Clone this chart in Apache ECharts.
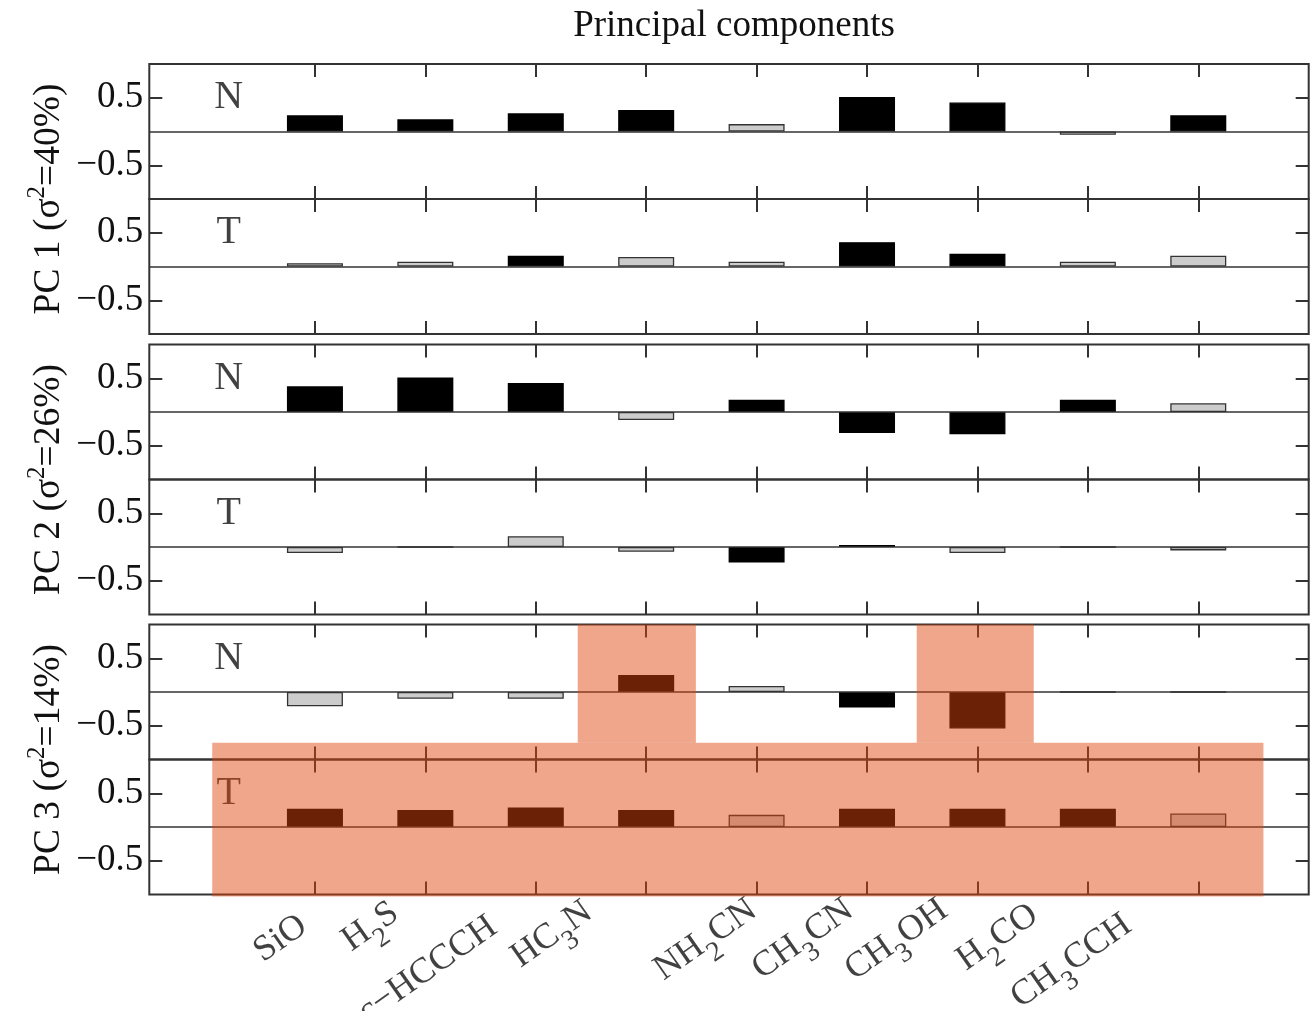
<!DOCTYPE html>
<html>
<head>
<meta charset="utf-8">
<script src="https://cdn.jsdelivr.net/npm/echarts@6/dist/echarts.min.js"></script>
<style>
  html, body { margin: 0; padding: 0; background: #fff; }
  #chart { width: 1314px; height: 1011px; }
</style>
</head>
<body>
<div id="chart"></div>
<script>
// Molecules along the horizontal axis (rich-text versions carry the subscripts)
const molecules = ['SiO', 'H2S', 'c−HCCCH', 'HC3N', 'NH2CN', 'CH3CN', 'CH3OH', 'H2CO', 'CH3CCH'];
const moleculeLabels = [
  '{m|SiO}', '{m|H}{sub|2}{m|S}', '{m|c−HCCCH}', '{m|HC}{sub|3}{m|N}', '{m|NH}{sub|2}{m|CN}',
  '{m|CH}{sub|3}{m|CN}', '{m|CH}{sub|3}{m|OH}', '{m|H}{sub|2}{m|CO}', '{m|CH}{sub|3}{m|CCH}'
];
const positions = [1, 2, 3, 4, 5, 6, 7, 8, 9];

// Principal components and their explained variance (%)
const pcNames = ['PC 1', 'PC 2', 'PC 3'];
const pcVariance = [40, 26, 14];
const yTickValues = [-0.5, 0.5];

// Loadings on column density (N) and temperature (T); sig = 1 marks a significant loading
const pc1N = [0.24, 0.18, 0.27, 0.32, 0.11, 0.51, 0.43, -0.05, 0.24];
const pc1NSig = [1, 1, 1, 1, 0, 1, 1, 0, 1];
const pc1T = [0.05, 0.07, 0.16, 0.14, 0.07, 0.36, 0.19, 0.07, 0.16];
const pc1TSig = [0, 0, 1, 0, 0, 1, 1, 0, 0];
const pc2N = [0.38, 0.51, 0.43, -0.12, 0.18, -0.31, -0.33, 0.18, 0.13];
const pc2NSig = [1, 1, 1, 0, 1, 1, 1, 1, 0];
const pc2T = [-0.09, 0, 0.16, -0.07, -0.23, 0.03, -0.09, 0, -0.05];
const pc2TSig = [0, 0, 0, 0, 1, 1, 0, 0, 0];
const pc3N = [-0.21, -0.10, -0.10, 0.25, 0.09, -0.23, -0.54, 0, 0];
const pc3NSig = [0, 0, 0, 1, 0, 1, 1, 0, 0];
const pc3T = [0.27, 0.25, 0.29, 0.25, 0.18, 0.27, 0.27, 0.27, 0.20];
const pc3TSig = [1, 1, 1, 1, 0, 1, 1, 1, 0];

// Highlighted regions of PC 3: [xFrom, xTo, yFrom, yTo] in the PC 3 overlay frame
// (N panel zero at 0, T panel zero at -2)
const pc3Highlights = [
  [3.38, 4.45, -0.75, 1],
  [6.45, 7.51, -0.75, 1],
  [0.07, 9.59, -3.03, -0.75]
];

const panels = [
  { vals: pc1N, sig: pc1NSig, tag: 'N' },
  { vals: pc1T, sig: pc1TSig, tag: 'T' },
  { vals: pc2N, sig: pc2NSig, tag: 'N' },
  { vals: pc2T, sig: pc2TSig, tag: 'T' },
  { vals: pc3N, sig: pc3NSig, tag: 'N' },
  { vals: pc3T, sig: pc3TSig, tag: 'T' }
];

const FONT = "'Liberation Serif', 'DejaVu Serif', serif";
const INK = '#111';
const FRAME = '#333';
const plotLeft = 149.3, plotRight = 5.3;
const pairTops = [64, 344.5, 624.5];
const panelH = 135;
// screen-space pixel nudges of the slanted molecule names, measured from the tick foot
const nameNudge = [[-8, 33], [-27, 20], [-39, 34], [-54, 19], [0, 17], [-14, 17], [-30, 17], [-50, 22], [-67, 32]];
const NAME_ROTATE = 35;
// label offsets are applied in the rotated text frame, so turn the screen nudge into it
function toTextFrame(d) {
  const t = NAME_ROTATE * Math.PI / 180, c = Math.cos(t), s = Math.sin(t);
  return [d[0] * c - d[1] * s, d[0] * s + d[1] * c];
}

const grids = [], xAxes = [], yAxes = [], series = [];

function xTick() {
  return { show: true, inside: true, length: 13, customValues: positions, lineStyle: { color: FRAME, width: 2 } };
}
function yTick() {
  return { show: true, inside: true, length: 13, customValues: yTickValues, lineStyle: { color: FRAME, width: 2 } };
}

panels.forEach((p, i) => {
  const pair = Math.floor(i / 2), row = i % 2;
  const top = pairTops[pair] + row * panelH;
  grids.push({
    left: plotLeft, right: plotRight, top: top, height: panelH,
    show: true, borderColor: FRAME, borderWidth: 2, backgroundColor: 'transparent'
  });
  ['bottom', 'top'].forEach(pos => xAxes.push({
    type: 'value', gridIndex: i, min: -0.5, max: 10, position: pos,
    axisLine: { show: false, onZero: false }, splitLine: { show: false },
    axisTick: xTick(), axisLabel: { show: false }
  }));
  yAxes.push({
    type: 'value', gridIndex: i, min: -1, max: 1, position: 'left',
    axisLine: { show: false, onZero: false }, splitLine: { show: false }, axisTick: yTick(),
    axisLabel: {
      show: true, customValues: yTickValues, margin: 6,
      fontFamily: FONT, fontSize: 37, color: INK,
      formatter: v => (v < 0 ? '−' + Math.abs(v) : String(v))
    }
  });
  yAxes.push({
    type: 'value', gridIndex: i, min: -1, max: 1, position: 'right',
    axisLine: { show: false, onZero: false }, splitLine: { show: false }, axisTick: yTick(),
    axisLabel: { show: false }
  });
  series.push({
    type: 'bar', xAxisIndex: 2 * i, yAxisIndex: 2 * i, barWidth: 56, silent: true,
    itemStyle: { borderColor: FRAME, borderWidth: 1.3 },
    data: p.vals.map((v, k) => ({
      value: [positions[k], v],
      itemStyle: { color: p.sig[k] ? '#000' : '#cccccc', borderColor: p.sig[k] ? '#000' : FRAME }
    })),
    markLine: {
      silent: true, symbol: ['none', 'none'], label: { show: false },
      lineStyle: { color: FRAME, width: 1.5, type: 'solid' },
      data: [{ yAxis: 0 }]
    }
  });
  series.push({
    type: 'scatter', xAxisIndex: 2 * i, yAxisIndex: 2 * i, silent: true,
    symbolSize: 0, data: [[0.22, 0.5]],
    label: {
      show: true, position: 'inside', formatter: p.tag,
      fontFamily: FONT, fontSize: 40, color: INK
    }
  });
});

// Slanted molecule names under the bottom panel
const lastPanel = panels.length - 1;
series.push({
  type: 'scatter', xAxisIndex: 2 * lastPanel, yAxisIndex: 2 * lastPanel, silent: true,
  symbolSize: 0, clip: false,
  data: positions.map((x, k) => ({
    value: [x, -1],
    label: { offset: toTextFrame(nameNudge[k]), formatter: moleculeLabels[k] }
  })),
  label: {
    show: true, position: 'inside', align: 'right', verticalAlign: 'middle', rotate: NAME_ROTATE,
    rich: {
      m: { fontFamily: FONT, fontSize: 36, color: INK, verticalAlign: 'bottom', padding: [0, 0, 12, 0] },
      sub: { fontFamily: FONT, fontSize: 28, color: INK, verticalAlign: 'bottom' }
    }
  }
});

// One overlay frame per principal component: carries the side title and the highlights
pcNames.forEach((name, k) => {
  const gi = grids.length;
  grids.push({ left: plotLeft, right: plotRight, top: pairTops[k], height: 2 * panelH, show: false });
  xAxes.push({ type: 'value', gridIndex: gi, min: -0.5, max: 10, show: false });
  yAxes.push({
    type: 'value', gridIndex: gi, min: -3, max: 1,
    axisLine: { show: false, onZero: false }, axisTick: { show: false }, axisLabel: { show: false }, splitLine: { show: false },
    name: '{m|' + name + ' (σ}{sup|2}{m|=' + pcVariance[k] + '%)}',
    nameLocation: 'middle', nameRotate: 90, nameGap: 81,
    nameTextStyle: {
      rich: {
        m: { fontFamily: FONT, fontSize: 37.5, color: INK, verticalAlign: 'bottom' },
        sup: { fontFamily: FONT, fontSize: 25, color: INK, verticalAlign: 'bottom', padding: [0, 0, 18, 0] }
      }
    }
  });
});

const pc3Frame = grids.length - 1;
series.push({
  type: 'custom', xAxisIndex: pc3Frame, yAxisIndex: pc3Frame, clip: false, silent: true, z: 10,
  data: pc3Highlights,
  encode: { x: [0, 1], y: [2, 3] },
  renderItem: (params, api) => {
    const a = api.coord([api.value(0), api.value(3)]);
    const b = api.coord([api.value(1), api.value(2)]);
    return {
      type: 'rect',
      shape: { x: a[0], y: a[1], width: b[0] - a[0], height: b[1] - a[1] },
      style: { fill: 'rgba(222,68,12,0.48)' }
    };
  }
});

const chart = echarts.init(document.getElementById('chart'));
chart.setOption({
  animation: false,
  backgroundColor: '#fff',
  title: {
    text: 'Principal components', left: 729, textAlign: 'center', top: 3,
    textStyle: { fontFamily: FONT, fontSize: 37, fontWeight: 'normal', color: INK }
  },
  grid: grids,
  xAxis: xAxes,
  yAxis: yAxes,
  series: series
});
</script>
</body>
</html>
